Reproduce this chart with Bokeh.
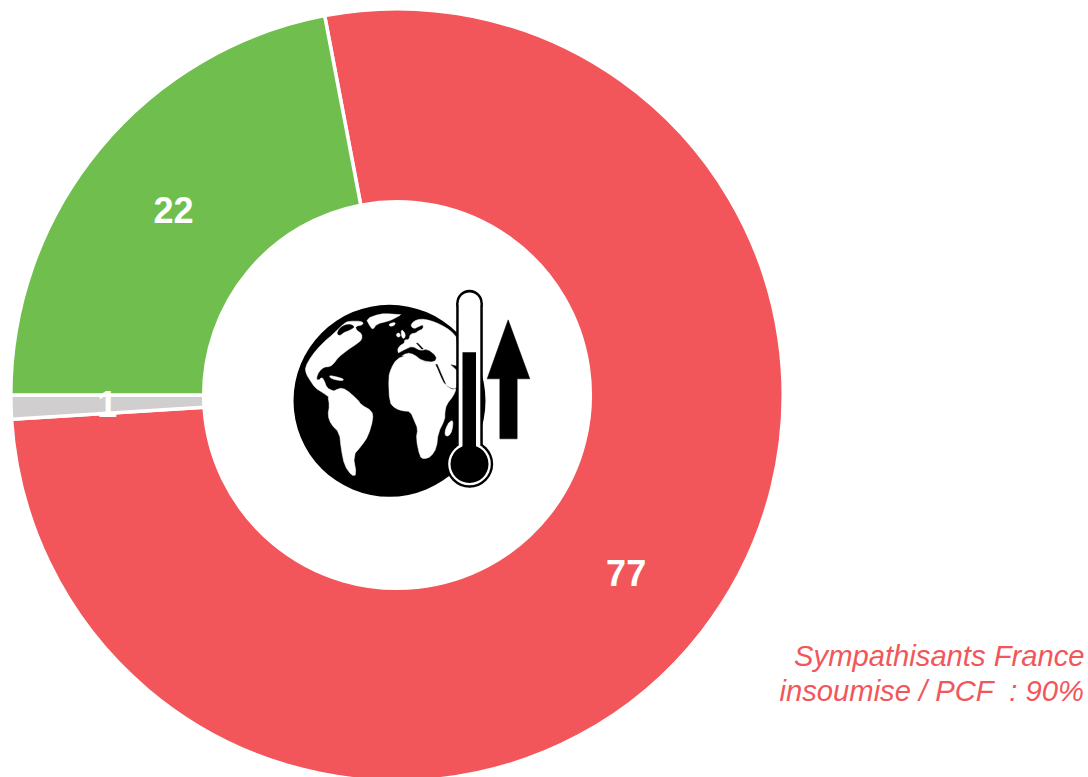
from math import radians, sin, cos
from bokeh.plotting import figure
from bokeh.models import Range1d, ColumnDataSource
from bokeh.core.properties import value
from bokeh.embed import file_html
from bokeh.resources import INLINE

# --- data
categories = ["Oui", "NSP", "Non"]
values = [77, 1, 22]
labels = ["77", "1", "22"]
colors = ["#F2565B", "#D0CECE", "#70BF4E"]
note_lines = ["Sympathisants France", "insoumise / PCF \u00a0: 90%"]
start_angle_cw = -10.8

W, H = 1088, 777
def Y(py): return H - py

p = figure(width=W, height=H, output_backend="svg", toolbar_location=None,
           x_range=Range1d(0, W), y_range=Range1d(0, H), min_border=0)
p.axis.visible = False
p.grid.visible = False
p.outline_line_color = None
p.background_fill_color = "#FFFFFF"
p.border_fill_color = "#FFFFFF"

cx, cy = 396.5, Y(394.5)
r_out, r_in = 386.2, 193.3
r_lab = 290.0

total = sum(values)
starts, ends, lx, ly = [], [], [], []
a = start_angle_cw
for v in values:
    b = a + v / total * 360
    starts.append(radians(90 - a))
    ends.append(radians(90 - b))
    m = radians((a + b) / 2)
    lx.append(cx + r_lab * sin(m))
    ly.append(cy + r_lab * cos(m))
    a = b

src = ColumnDataSource(dict(cat=categories, v=values, s=starts, e=ends, c=colors,
                            lx=lx, ly=ly, t=labels))
p.annular_wedge(x=cx, y=cy, inner_radius=r_in, outer_radius=r_out, start_angle="s", end_angle="e",
                direction="clock", fill_color="c", line_color="#FFFFFF", line_width=3.5, source=src)
p.text(x="lx", y="ly", text="t", source=src, text_color="#FFFFFF", text_align="center",
       text_baseline="middle", text_font=value("Liberation Sans"), text_font_style="bold",
       text_font_size="36px")

p.text(x=[1084, 1084], y=[Y(655), Y(690)], text=note_lines, text_color="#F2565B", text_align="right",
       text_baseline="middle", text_font=value("Liberation Sans"), text_font_style="italic",
       text_font_size="29.2px")

# --- icon (globe, thermometer, arrow), traced in page pixels
def smooth(pts, n=2):
    for _ in range(n):
        out = []
        for i, (x1, y1) in enumerate(pts):
            x2, y2 = pts[(i + 1) % len(pts)]
            out.append((0.75 * x1 + 0.25 * x2, 0.75 * y1 + 0.25 * y2))
            out.append((0.25 * x1 + 0.75 * x2, 0.25 * y1 + 0.75 * y2))
        pts = out
    return pts

def poly(x0, y0, pts, color, sm=2):
    pts = smooth(pts, sm)
    p.patch([x0 + a / 3 for a, _ in pts], [Y(y0 + b / 3) for _, b in pts],
            fill_color=color, line_color=color, line_width=0.5)

BK, WH = "#000000", "#FFFFFF"
p.circle(x=[389], y=[Y(400.3)], radius=96, fill_color=BK, line_color=None)

poly(293, 300, [(35,200),(55,165),(85,130),(120,100),(150,70),(165,62),(205,62),(210,72),(185,78),(190,90),
                (205,100),(205,118),(190,130),(160,150),(135,170),(120,190),(110,198),(90,200),(75,215),(68,235),
                (75,240),(85,230),(92,240),(100,262),(120,272),(135,272),(128,290),(110,292),(90,278),(65,262),
                (50,240),(38,220)], WH, 1)
poly(293, 300, [(130,100),(140,80),(165,70),(185,78),(170,88),(150,95),(140,105)], BK)
poly(293, 300, [(108,225),(125,228),(150,235),(148,241),(125,238),(110,232)], WH, 1)
poly(293, 300, [(218,55),(260,40),(290,40),(310,42),(325,42),(300,55),(285,62),(250,70),(238,88),(228,75)], WH, 1)
poly(380, 300, [(25,70),(45,65),(42,75),(28,78)], WH, 1)
poly(380, 300, [(47,100),(57,97),(60,108),(50,110)], WH, 1)
poly(380, 300, [(62,85),(75,100),(72,115),(63,110)], WH, 1)
poly(380, 300, [(50,150),(58,135),(72,128),(72,118),(85,118),(90,100),(105,98),(112,92),(128,85),(128,72),
                (115,78),(100,85),(90,75),(100,62),(120,55),(150,60),(180,72),(210,90),(232,115),(232,260),
                (215,265),(190,250),(165,195),(120,180),(60,165)], WH, 1)
poly(380, 300, [(50,160),(78,146),(95,138),(120,152),(140,146),(168,168),(162,184),(125,180),(100,160),(80,156),(58,168)], BK, 1)
poly(380, 300, [(166,192),(170,192),(195,250),(192,254)], BK, 0)
poly(380, 300, [(212,193),(232,198),(232,212),(225,205)], BK, 0)
poly(380, 300, [(108,128),(112,128),(128,145),(124,146)], BK, 0)
poly(380, 300, [(24,230),(32,203),(48,176),(80,163),(125,183),(165,193),(178,225),(192,252),(215,268),(228,263),
                (218,287),(198,312),(193,335),(193,357),(173,397),(168,442),(152,468),(130,476),(118,468),
                (107,415),(112,385),(102,362),(90,333),(65,331),(43,323),(27,305)], WH, 1)
poly(385, 385, [(192,108),(203,105),(200,135),(190,152),(178,150),(180,130)], WH, 1)
poly(310, 385, [(52,30),(85,7),(107,12),(142,43),(152,58),(184,76),(188,100),(173,152),(152,182),(128,210),
                (138,268),(124,271),(102,240),(92,190),(87,142),(62,117),(52,90),(57,60)], WH, 1)

# thermometer
TX = 469.0
def tube(half, top, bottom, color):
    r = half
    p.circle(x=[TX], y=[Y(top + r)], radius=r, fill_color=color, line_color=None)
    p.quad(left=[TX - half], right=[TX + half], top=[Y(top + r)], bottom=[Y(bottom)], fill_color=color, line_color=None)

tube(13.3, 289.3, 450, BK)
p.circle(x=[TX], y=[Y(463.5)], radius=23.7, fill_color=BK, line_color=None)
tube(10.8, 291.9, 450, WH)
p.circle(x=[TX], y=[Y(463.5)], radius=21.3, fill_color=WH, line_color=None)
p.circle(x=[TX], y=[Y(463.5)], radius=19, fill_color=BK, line_color=None)
p.quad(left=[462], right=[475.5], top=[Y(351.7)], bottom=[Y(455)], fill_color=BK, line_color=None)

# arrow
poly(280, 280, [(683,118),(748,295),(710,295),(710,475),(658,475),(658,295),(620,295)], BK, 0)

open("out.html", "w").write(file_html(p, INLINE))
